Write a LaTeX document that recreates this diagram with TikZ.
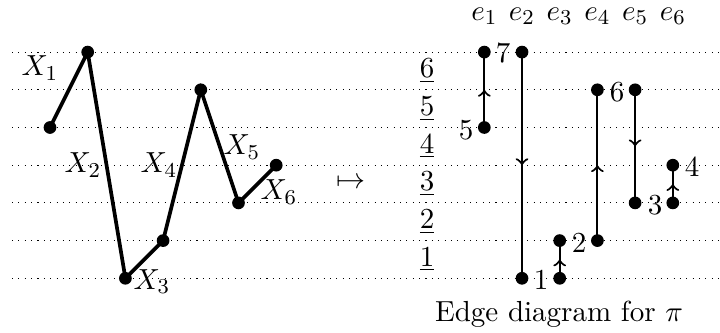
\documentclass[tikz,border=0pt,11pt]{standalone}
\usetikzlibrary{decorations.markings}
\begin{document}
\begin{tikzpicture}[x=0.013263cm,y=-0.013263cm,
  vdot/.style={circle,fill,inner sep=0pt,minimum size=4.8pt},
  gridline/.style={dotted,line width=0.4pt},
  pathline/.style={line width=1.4pt},
  edgeline/.style={line width=0.8pt,postaction={decorate},
    decoration={markings,mark=at position 0.5 with {\arrow{>}}}},
  lab/.style={inner sep=0pt}]
\useasboundingbox (0,0) rectangle (720,333);
% levels
\def\Lone{278.3}\def\Ltwo{240.6}\def\Lthree{202.9}\def\Lfour{165.2}
\def\Lfive{127.5}\def\Lsix{89.8}\def\Lseven{52.1}
\foreach \yy in {278.3,240.6,202.9,165.2,127.5,89.8,52.1}
  \draw[gridline] (12,\yy) -- (720,\yy);
% left path
\node[vdot] (p1) at (50,\Lfive) {};
\node[vdot] (p2) at (87.7,\Lseven) {};
\node[vdot] (p3) at (125.4,\Lone) {};
\node[vdot] (p4) at (163.1,\Ltwo) {};
\node[vdot] (p5) at (200.8,\Lsix) {};
\node[vdot] (p6) at (238.5,\Lthree) {};
\node[vdot] (p7) at (276.2,\Lfour) {};
\draw[pathline] (p1.center) -- (p2.center) -- (p3.center) -- (p4.center) -- (p5.center) -- (p6.center) -- (p7.center);
\node[lab] (x1) at (40,68) {$X_1$};
\node[lab] (x2) at (83,165) {$X_2$};
\node[lab] (x3) at (152,281.5) {$X_3$};
\node[lab] (x4) at (159,165) {$X_4$};
\node[lab] (x5) at (242,147) {$X_5$};
\node[lab] (x6) at (279,192) {$X_6$};
% mapsto
\node[lab] (mt) at (351,183) {$\mapsto$};
% underlined level numbers
\node[lab] (u1) at (427,259.5) {$\underline{1}$};
\node[lab] (u2) at (427,221.8) {$\underline{2}$};
\node[lab] (u3) at (427,184.1) {$\underline{3}$};
\node[lab] (u4) at (427,146.4) {$\underline{4}$};
\node[lab] (u5) at (427,108.7) {$\underline{5}$};
\node[lab] (u6) at (427,71) {$\underline{6}$};
% headers
\node[lab] (h1) at (484.3,16.5) {$e_1$};
\node[lab] (h2) at (522,16.5) {$e_2$};
\node[lab] (h3) at (559.7,16.5) {$e_3$};
\node[lab] (h4) at (597.4,16.5) {$e_4$};
\node[lab] (h5) at (635.1,16.5) {$e_5$};
\node[lab] (h6) at (672.8,16.5) {$e_6$};
% edges
\node[vdot] (a1) at (484.3,\Lfive) {};
\node[vdot] (b1) at (484.3,\Lseven) {};
\node[vdot] (a2) at (522,\Lseven) {};
\node[vdot] (b2) at (522,\Lone) {};
\node[vdot] (a3) at (559.7,\Lone) {};
\node[vdot] (b3) at (559.7,\Ltwo) {};
\node[vdot] (a4) at (597.4,\Ltwo) {};
\node[vdot] (b4) at (597.4,\Lsix) {};
\node[vdot] (a5) at (635.1,\Lsix) {};
\node[vdot] (b5) at (635.1,\Lthree) {};
\node[vdot] (a6) at (672.8,\Lthree) {};
\node[vdot] (b6) at (672.8,\Lfour) {};
\draw[edgeline] (a1.center) -- (b1.center);
\draw[edgeline] (a2.center) -- (b2.center);
\draw[edgeline] (a3.center) -- (b3.center);
\draw[edgeline] (a4.center) -- (b4.center);
\draw[edgeline] (a5.center) -- (b5.center);
\draw[edgeline] (a6.center) -- (b6.center);
% vertex values
\node[lab] (n5) at (466,130) {5};
\node[lab] (n7) at (503,53) {7};
\node[lab] (n1) at (541,280) {1};
\node[lab] (n2) at (579,243) {2};
\node[lab] (n6) at (617,92) {6};
\node[lab] (n3) at (655,205) {3};
\node[lab] (n4) at (692,167) {4};
% caption
\node[lab] (cap) at (559,314.5) {Edge diagram for $\pi$};
\end{tikzpicture}
\end{document}
